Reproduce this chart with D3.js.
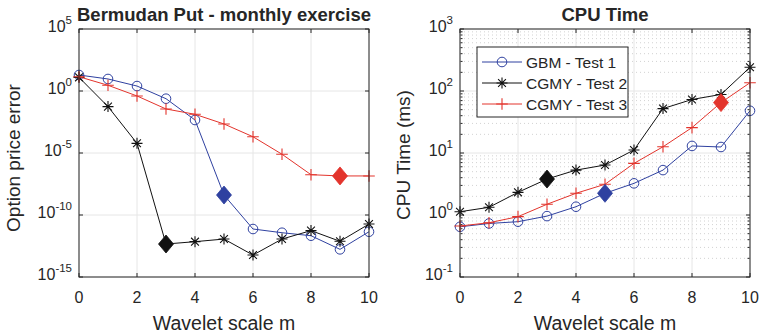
<!DOCTYPE html>
<html>
<head>
<meta charset="utf-8">
<script src="https://cdn.jsdelivr.net/npm/d3@7"></script>
<style>
  body { margin: 0; background: #fff; }
  svg text { font-family: "Liberation Sans", Arial, sans-serif; fill: #262626; }
</style>
</head>
<body>
<script>
// wavelet scale m
const scales = [0, 1, 2, 3, 4, 5, 6, 7, 8, 9, 10];

// option price error (log10 values)
const errGbm   = [1.29, 0.97, 0.40, -0.62, -2.34, -8.39, -11.13, -11.43, -11.67, -12.77, -11.35];
const errCgmy2 = [1.10, -1.26, -4.22, -12.34, -12.15, -11.94, -13.23, -11.94, -11.26, -12.12, -10.73];
const errCgmy3 = [1.15, 0.46, -0.40, -1.45, -1.88, -2.66, -3.69, -5.10, -6.75, -6.85, -6.85];

// cpu time in ms
const cpuGbm   = [0.645, 0.73, 0.78, 0.96, 1.36, 2.24, 3.24, 5.3, 13, 12.5, 48];
const cpuCgmy2 = [1.13, 1.33, 2.32, 3.8, 5.3, 6.4, 11.2, 52, 73, 88, 241];
const cpuCgmy3 = [0.665, 0.75, 0.94, 1.49, 2.24, 3.13, 6.8, 12.6, 25.7, 65, 136];

// index of the highlighted (diamond) point of each series
const chosenGbm = 5, chosenCgmy2 = 3, chosenCgmy3 = 9;

const seriesNames = ["GBM - Test 1", "CGMY - Test 2", "CGMY - Test 3"];
const xTicks = [0, 2, 4, 6, 8, 10];
const errTickExp = [5, 0, -5, -10, -15];
const cpuTickExp = [3, 2, 1, 0, -1];

const blue = "#2f41a0", black = "#111111", red = "#e3342c";
const axisColor = "#262626";

const width = 760, height = 335;
const svg = d3.select("body").append("svg")
  .attr("width", width).attr("height", height);

function markerPath(kind) {
  if (kind === "star") {
    const a = 5.5, b = 3.9;
    return `M${-a},0L${a},0M0,${-a}L0,${a}M${-b},${-b}L${b},${b}M${-b},${b}L${b},${-b}`;
  }
  if (kind === "plus") {
    const a = 5.8;
    return `M${-a},0L${a},0M0,${-a}L0,${a}`;
  }
  return null;
}

function drawMarker(g, kind, x, y, color) {
  if (kind === "circle") {
    g.append("circle").attr("cx", x).attr("cy", y).attr("r", 4.8)
      .attr("fill", "none").attr("stroke", color).attr("stroke-width", 1);
  } else {
    g.append("path").attr("d", markerPath(kind))
      .attr("transform", `translate(${x},${y})`)
      .attr("fill", "none").attr("stroke", color).attr("stroke-width", 1.1);
  }
}

function drawPanel(opt) {
  const g = svg.append("g");
  const x = d3.scaleLinear().domain([0, 10]).range([opt.left, opt.right]);
  const y = d3.scaleLog().domain(opt.yDomain).range([opt.bottom, opt.top]);

  // minor grid
  if (opt.minor) {
    const lo = Math.log10(opt.yDomain[0]), hi = Math.log10(opt.yDomain[1]);
    for (let e = lo; e < hi; e++) {
      for (let k = 2; k <= 9; k++) {
        const yy = y(k * Math.pow(10, e));
        g.append("line").attr("x1", opt.left).attr("x2", opt.right)
          .attr("y1", yy).attr("y2", yy)
          .attr("stroke", "#d2d2d2").attr("stroke-width", 1)
          .attr("stroke-dasharray", "1,3");
        [opt.left, opt.right].forEach((xx, i) => {
          g.append("line").attr("x1", xx).attr("x2", xx + (i ? -2.5 : 2.5))
            .attr("y1", yy).attr("y2", yy).attr("stroke", axisColor);
        });
      }
    }
  }

  // major grid
  xTicks.forEach(t => {
    g.append("line").attr("x1", x(t)).attr("x2", x(t))
      .attr("y1", opt.top).attr("y2", opt.bottom)
      .attr("stroke", "#e6e6e6").attr("stroke-width", 1);
  });
  opt.tickExp.forEach(e => {
    g.append("line").attr("x1", opt.left).attr("x2", opt.right)
      .attr("y1", y(Math.pow(10, e))).attr("y2", y(Math.pow(10, e)))
      .attr("stroke", "#e6e6e6").attr("stroke-width", 1);
  });

  // series
  opt.series.forEach(s => {
    const line = d3.line().x((d, i) => x(scales[i])).y(d => y(d));
    g.append("path").datum(s.values).attr("d", line)
      .attr("fill", "none").attr("stroke", s.color).attr("stroke-width", 1);
    s.values.forEach((v, i) => {
      if (i === s.chosen) return;
      drawMarker(g, s.kind, x(scales[i]), y(v), s.color);
    });
  });
  opt.series.forEach(s => {
    const cx = x(scales[s.chosen]), cy = y(s.values[s.chosen]);
    g.append("path")
      .attr("d", `M${cx},${cy - 9}L${cx + 7.5},${cy}L${cx},${cy + 9}L${cx - 7.5},${cy}Z`)
      .attr("fill", s.color).attr("stroke", s.color).attr("stroke-width", 0.8);
  });

  // box
  g.append("rect").attr("x", opt.left).attr("y", opt.top)
    .attr("width", opt.right - opt.left).attr("height", opt.bottom - opt.top)
    .attr("fill", "none").attr("stroke", axisColor).attr("stroke-width", 1);

  // x ticks
  xTicks.forEach(t => {
    g.append("line").attr("x1", x(t)).attr("x2", x(t))
      .attr("y1", opt.bottom).attr("y2", opt.bottom - 4).attr("stroke", axisColor);
    g.append("line").attr("x1", x(t)).attr("x2", x(t))
      .attr("y1", opt.top).attr("y2", opt.top + 4).attr("stroke", axisColor);
    g.append("text").attr("x", x(t)).attr("y", opt.bottom + 26)
      .attr("text-anchor", "middle").attr("font-size", 16).text(t);
  });

  // y ticks
  opt.tickExp.forEach(e => {
    const yy = y(Math.pow(10, e));
    g.append("line").attr("x1", opt.left).attr("x2", opt.left + 4)
      .attr("y1", yy).attr("y2", yy).attr("stroke", axisColor);
    g.append("line").attr("x1", opt.right).attr("x2", opt.right - 4)
      .attr("y1", yy).attr("y2", yy).attr("stroke", axisColor);
    const txt = g.append("text").attr("x", opt.left - 7).attr("y", yy + 3)
      .attr("text-anchor", "end").attr("font-size", 16);
    txt.append("tspan").text("10");
    txt.append("tspan").attr("dy", -8).attr("font-size", 11.5).text(e);
  });

  // labels
  g.append("text").attr("x", (opt.left + opt.right) / 2).attr("y", 21)
    .attr("text-anchor", "middle").attr("font-size", 18.5).attr("font-weight", "bold")
    .attr("fill", "#111").text(opt.title);
  g.append("text").attr("x", (opt.left + opt.right) / 2).attr("y", 330)
    .attr("text-anchor", "middle").attr("font-size", 19.5).text("Wavelet scale m");
  g.append("text")
    .attr("transform", `translate(${opt.ylabelX},${opt.ylabelY}) rotate(-90)`)
    .attr("text-anchor", "middle").attr("font-size", 19).text(opt.ylabel);

  return { g, x, y };
}

drawPanel({
  left: 79, right: 369, top: 29, bottom: 277,
  yDomain: [1e-15, 1e5], tickExp: errTickExp, minor: false,
  title: "Bermudan Put - monthly exercise", ylabel: "Option price error",
  ylabelX: 20, ylabelY: 158,
  series: [
    { values: errGbm.map(v => Math.pow(10, v)), color: blue, kind: "circle", chosen: chosenGbm },
    { values: errCgmy2.map(v => Math.pow(10, v)), color: black, kind: "star", chosen: chosenCgmy2 },
    { values: errCgmy3.map(v => Math.pow(10, v)), color: red, kind: "plus", chosen: chosenCgmy3 }
  ]
});

const cpu = drawPanel({
  left: 460, right: 750, top: 29, bottom: 277,
  yDomain: [0.1, 1000], tickExp: cpuTickExp, minor: true,
  title: "CPU Time", ylabel: "CPU Time (ms)",
  ylabelX: 410, ylabelY: 155,
  series: [
    { values: cpuGbm, color: blue, kind: "circle", chosen: chosenGbm },
    { values: cpuCgmy2, color: black, kind: "star", chosen: chosenCgmy2 },
    { values: cpuCgmy3, color: red, kind: "plus", chosen: chosenCgmy3 }
  ]
});

// legend
const leg = cpu.g.append("g");
leg.append("rect").attr("x", 477).attr("y", 47).attr("width", 151).attr("height", 70)
  .attr("fill", "#fff").attr("stroke", axisColor).attr("stroke-width", 1);
const legKinds = ["circle", "star", "plus"];
const legColors = [blue, black, red];
seriesNames.forEach((name, i) => {
  const yy = 62 + i * 21;
  leg.append("line").attr("x1", 482).attr("x2", 522).attr("y1", yy).attr("y2", yy)
    .attr("stroke", legColors[i]).attr("stroke-width", 1);
  drawMarker(leg, legKinds[i], 502, yy, legColors[i]);
  leg.append("text").attr("x", 526).attr("y", yy + 5.5).attr("font-size", 15.5).text(name);
});
</script>
</body>
</html>
